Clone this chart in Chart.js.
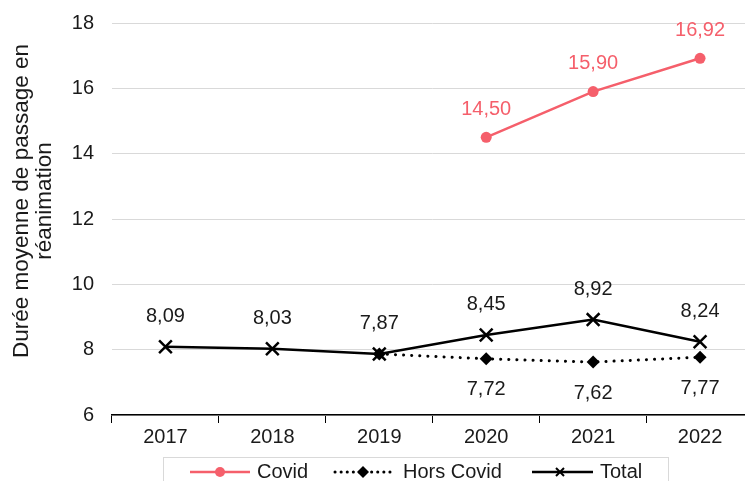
<!DOCTYPE html>
<html>
<head>
<meta charset="utf-8">
<script src="https://cdn.jsdelivr.net/npm/chart.js@4/dist/chart.umd.min.js"></script>
<style>
  html, body { margin: 0; padding: 0; background: #fff; overflow: hidden; }
  #wrap { width: 745px; height: 481px; overflow: hidden; }
</style>
</head>
<body>
<div id="wrap"><canvas id="chart" width="765" height="481"></canvas></div>
<script>
// Data
const years = ['2017', '2018', '2019', '2020', '2021', '2022'];
const covid = [null, null, null, 14.50, 15.90, 16.92];
const horsCovid = [null, null, 7.87, 7.72, 7.62, 7.77];
const total = [8.09, 8.03, 7.87, 8.45, 8.92, 8.24];
const yTicks = [6, 8, 10, 12, 14, 16, 18];
const yTitle = ['Durée moyenne de passage en', 'réanimation'];

const RED = '#f55f6b';
const TEXT = '#1a1a1a';
const FONT = "'Liberation Sans', Arial, sans-serif";

function fmt(v) {
    return v.toFixed(2).replace('.', ',');
}

// Value labels drawn next to points
const valueLabels = {
    id: 'valueLabels',
    afterDatasetsDraw(chart) {
        const ctx = chart.ctx;
        ctx.save();
        ctx.font = '20px ' + FONT;
        ctx.textAlign = 'center';
        ctx.textBaseline = 'middle';
        chart.data.datasets.forEach((ds, i) => {
            const meta = chart.getDatasetMeta(i);
            meta.data.forEach((pt, j) => {
                const v = ds.data[j];
                if (v == null) return;
                if (ds.label === 'Hors Covid' && j === 2) return;
                ctx.fillStyle = ds.label === 'Covid' ? RED : TEXT;
                let dy = -30;
                if (ds.label === 'Hors Covid') dy = 31;
                if (ds.label === 'Covid') dy = -28;
                ctx.fillText(fmt(v), pt.x, pt.y + dy);
            });
        });
        ctx.restore();
    }
};

// Rotated y axis title, sits a bit above the middle of the plot
const axisTitle = {
    id: 'axisTitle',
    afterDraw(chart) {
        const ctx = chart.ctx;
        ctx.save();
        ctx.translate(0, 201);
        ctx.rotate(-Math.PI / 2);
        ctx.font = '22.5px ' + FONT;
        ctx.fillStyle = TEXT;
        ctx.textAlign = 'center';
        ctx.textBaseline = 'middle';
        ctx.fillText(yTitle[0], 0, 22);
        ctx.fillText(yTitle[1], 0, 45);
        ctx.restore();
    }
};

// Legend box at the bottom with line + marker samples
const bottomLegend = {
    id: 'bottomLegend',
    afterDraw(chart) {
        const ctx = chart.ctx;
        ctx.save();
        ctx.strokeStyle = '#d9d9d9';
        ctx.lineWidth = 1;
        ctx.strokeRect(163.5, 457.5, 505, 30);
        const cy = 472;
        ctx.font = '20px ' + FONT;
        ctx.textBaseline = 'middle';

        // Covid
        ctx.strokeStyle = RED;
        ctx.lineWidth = 2.5;
        ctx.beginPath(); ctx.moveTo(190, cy); ctx.lineTo(250, cy); ctx.stroke();
        ctx.fillStyle = RED;
        ctx.beginPath(); ctx.arc(220, cy, 5, 0, Math.PI * 2); ctx.fill();
        ctx.fillStyle = TEXT;
        ctx.fillText('Covid', 257, cy);

        // Hors Covid
        ctx.strokeStyle = '#000';
        ctx.lineWidth = 3;
        ctx.lineCap = 'round';
        ctx.setLineDash([0.1, 6]);
        ctx.beginPath(); ctx.moveTo(335, cy); ctx.lineTo(391, cy); ctx.stroke();
        ctx.setLineDash([]);
        ctx.fillStyle = '#000';
        ctx.beginPath();
        ctx.moveTo(363, cy - 6); ctx.lineTo(369, cy); ctx.lineTo(363, cy + 6); ctx.lineTo(357, cy);
        ctx.closePath(); ctx.fill();
        ctx.fillStyle = TEXT;
        ctx.fillText('Hors Covid', 403, cy);

        // Total
        ctx.lineCap = 'butt';
        ctx.lineWidth = 2.5;
        ctx.beginPath(); ctx.moveTo(532, cy); ctx.lineTo(593, cy); ctx.stroke();
        ctx.lineWidth = 2;
        ctx.beginPath();
        ctx.moveTo(556, cy - 4); ctx.lineTo(564, cy + 4);
        ctx.moveTo(564, cy - 4); ctx.lineTo(556, cy + 4);
        ctx.stroke();
        ctx.fillText('Total', 600, cy);
        ctx.restore();
    }
};

new Chart(document.getElementById('chart'), {
    type: 'line',
    data: {
        labels: years,
        datasets: [
            {
                label: 'Covid',
                data: covid,
                borderColor: RED,
                backgroundColor: RED,
                borderWidth: 2.5,
                pointStyle: 'circle',
                pointRadius: 5.5,
                pointBorderWidth: 0,
                tension: 0
            },
            {
                label: 'Hors Covid',
                data: horsCovid,
                borderColor: '#000',
                backgroundColor: '#000',
                borderWidth: 3,
                borderDash: [0.1, 8],
                borderCapStyle: 'round',
                pointStyle: 'rectRot',
                pointRadius: 6.5,
                pointBorderWidth: 0,
                tension: 0
            },
            {
                label: 'Total',
                data: total,
                borderColor: '#000',
                backgroundColor: '#000',
                borderWidth: 2.5,
                pointStyle: 'crossRot',
                pointRadius: 9,
                pointBorderWidth: 2.5,
                tension: 0
            }
        ]
    },
    options: {
        responsive: false,
        animation: false,
        layout: { padding: { top: 23, right: 0, bottom: 26, left: 8 } },
        plugins: {
            legend: { display: false },
            tooltip: { enabled: false }
        },
        scales: {
            x: {
                offset: true,
                grid: {
                    offset: true,
                    drawOnChartArea: false,
                    drawTicks: true,
                    tickLength: 8,
                    color: '#000'
                },
                border: { color: '#000', width: 1.5 },
                ticks: {
                    color: TEXT,
                    font: { size: 20, family: FONT },
                    padding: 2
                },
                afterFit(scale) {
                    scale.height = 40;
                    scale.paddingLeft = 0;
                    scale.paddingRight = 0;
                }
            },
            y: {
                min: 6,
                max: 18,
                afterBuildTicks(scale) {
                    scale.ticks = yTicks.map(v => ({ value: v }));
                },
                grid: {
                    color: '#d9d9d9',
                    drawTicks: false
                },
                border: { display: false },
                ticks: {
                    color: TEXT,
                    font: { size: 20, family: FONT },
                    padding: 18
                },
                afterFit(scale) {
                    scale.width = 104;
                    scale.paddingTop = 0;
                    scale.paddingBottom = 0;
                }
            }
        }
    },
    plugins: [valueLabels, axisTitle, bottomLegend]
});
</script>
</body>
</html>
